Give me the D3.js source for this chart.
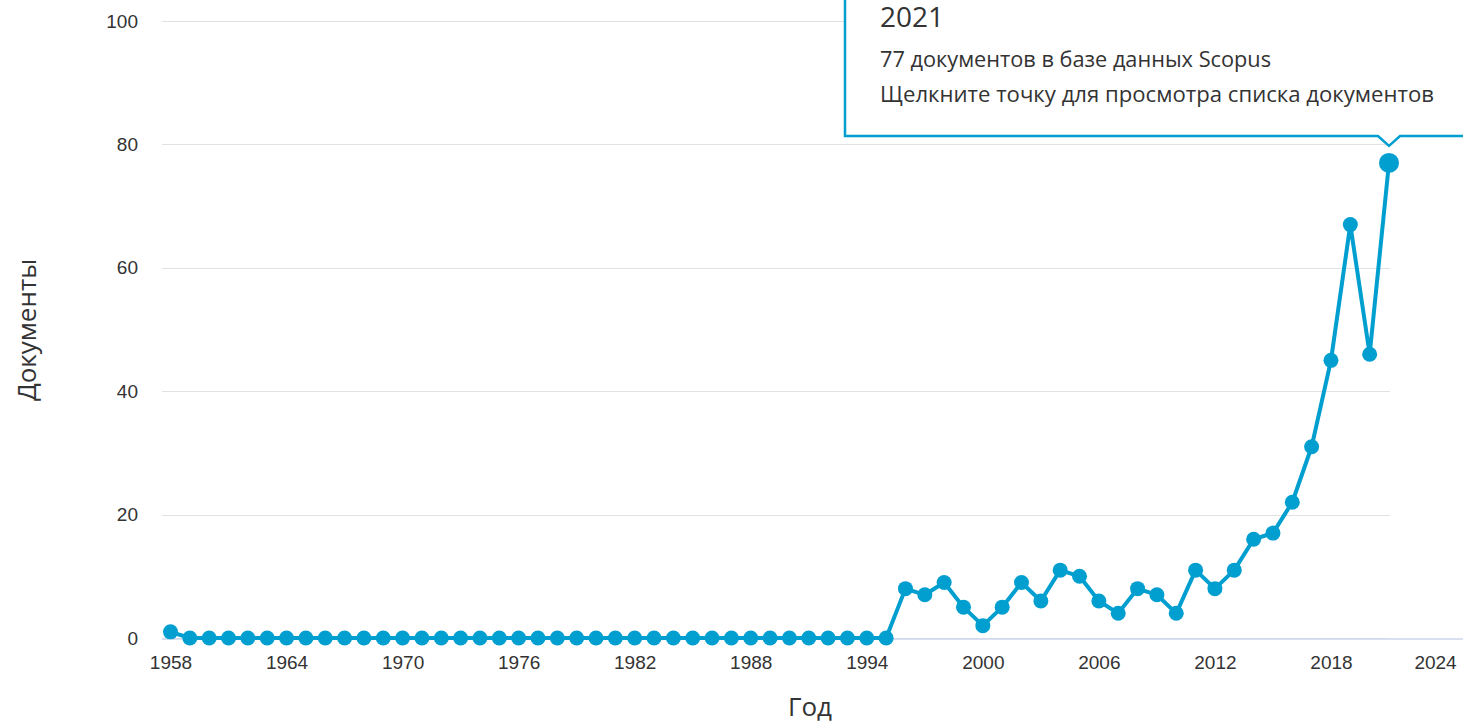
<!DOCTYPE html>
<html><head><meta charset="utf-8">
<script src="https://cdn.jsdelivr.net/npm/d3@7"></script>
<style>
html,body{margin:0;padding:0;background:#fff;overflow:hidden;}
svg{display:block;font-family:"Liberation Sans Narrow","Open Sans",sans-serif;}
</style></head><body>
<svg id="c" width="1463" height="726"></svg>
<script>
const years = d3.range(1958, 2022);
const docs = [1,0,0,0,0,0,0,0,0,0, 0,0,0,0,0,0,0,0,0,0, 0,0,0,0,0,0,0,0,0,0, 0,0,0,0,0,0,0,0,
  8,7,9,5,2,5,9,6,11,10,6,4,8,7,4,11,8,11,16,17,22,31,45,67,46,77];
const xTicks = [1958,1964,1970,1976,1982,1988,1994,2000,2006,2012,2018,2024];
const yTicks = [0,20,40,60,80,100];
const yTitle = "Документы";
const xTitle = "Год";
const tipYear = 2021;
const tipLines = ["77 документов в базе данных Scopus","Щелкните точку для просмотра списка документов"];

const data = years.map((y,i)=>({year:y, v:docs[i]}));
const svg = d3.select("#c");
const x = d3.scaleLinear().domain([1958,2021]).range([170.5,1389]);
const y = d3.scaleLinear().domain([0,100]).range([638,21]);
const col = "#009fd0";

// grid
svg.append("g").selectAll("line").data(yTicks).join("line")
  .attr("x1",162).attr("x2",1390).attr("y1",d=>Math.round(y(d))+0.5).attr("y2",d=>Math.round(y(d))+0.5)
  .attr("stroke","#e2e2e2").attr("stroke-width",1);
// x axis line
svg.append("line").attr("x1",162).attr("x2",1463).attr("y1",639).attr("y2",639).attr("stroke","#ccd6eb").attr("stroke-width",1.5);

// y tick labels
const yAx = svg.append("g").attr("transform","translate(150,0)")
  .call(d3.axisLeft(y).tickValues(yTicks).tickSize(0).tickPadding(12));
yAx.select(".domain").remove();
yAx.selectAll("text").attr("font-size",19).attr("fill","#333").attr("font-family","inherit");

// x tick labels
const xAx = svg.append("g").attr("transform","translate(0,655)")
  .call(d3.axisBottom(x).tickValues(xTicks).tickSize(0).tickPadding(0).tickFormat(d3.format("d")));
xAx.select(".domain").remove();
xAx.selectAll("text").attr("font-size",19).attr("fill","#333").attr("font-family","inherit")
  .attr("dy","0.71em")
  .attr("dx",d=>d===2024?-12:0);

// titles
svg.append("text").attr("x",810).attr("y",716).attr("text-anchor","middle")
  .attr("font-size",26).attr("fill","#333").text(xTitle);
svg.append("text").attr("transform","translate(36,330) rotate(-90)").attr("text-anchor","middle")
  .attr("font-size",26).attr("fill","#333").text(yTitle);

// line
svg.append("path").datum(data)
  .attr("d",d3.line().x(d=>x(d.year)).y(d=>y(d.v)))
  .attr("fill","none").attr("stroke",col).attr("stroke-width",4).attr("stroke-linejoin","round");
svg.append("g").selectAll("circle").data(data).join("circle")
  .attr("cx",d=>x(d.year)).attr("cy",d=>y(d.v))
  .attr("r",d=>d.year===tipYear?10:7.5).attr("fill",col);

// tooltip
const tp = data.find(d=>d.year===tipYear);
const px = x(tp.year), py = y(tp.v);
const bx = 845, by = -20, bBottom = 136, bRight = 1480;
svg.append("path")
  .attr("d",`M${bx},${by} L${bRight},${by} L${bRight},${bBottom} L${px+11},${bBottom} L${px},${py-17} L${px-11},${bBottom} L${bx},${bBottom} Z`)
  .attr("fill","#fff").attr("stroke",col).attr("stroke-width",2.5);
svg.append("text").attr("x",880).attr("y",27).attr("font-size",28).attr("fill","#333").text(tipYear);
svg.append("text").attr("x",880).attr("y",67).attr("font-size",22).attr("fill","#333")
  .attr("textLength",391).attr("lengthAdjust","spacingAndGlyphs").text(tipLines[0]);
svg.append("text").attr("x",880).attr("y",102).attr("font-size",22).attr("fill","#333")
  .attr("textLength",554).attr("lengthAdjust","spacingAndGlyphs").text(tipLines[1]);
</script>
</body></html>
